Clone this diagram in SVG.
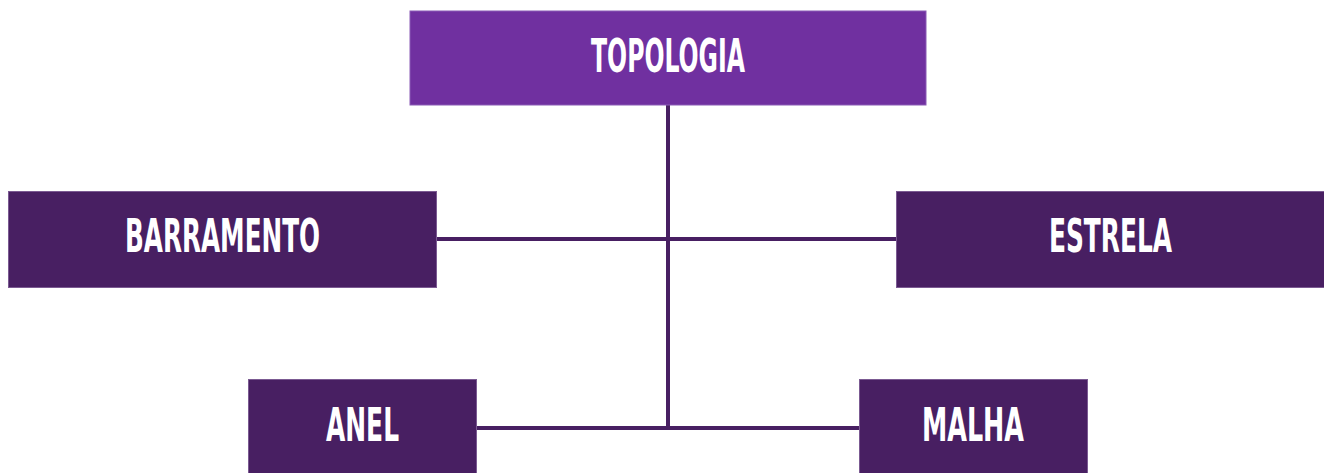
<svg xmlns="http://www.w3.org/2000/svg" width="1324" height="473" viewBox="0 0 1324 473">
<style>
.box{fill:#481F62;stroke:#7B5A92;stroke-width:1}
.top{fill:#7030A0;stroke:#8A5AB5;stroke-width:1}
.lbl{font-family:"DejaVu Sans Condensed","DejaVu Sans","Liberation Sans Narrow",sans-serif;font-weight:bold;font-size:47px;fill:#FFFFFF;text-anchor:middle}
.conn{stroke:#481F62;stroke-width:4;fill:none}
</style>
<rect width="1324" height="473" fill="#FFFFFF"/>
<g id="connectors">
<line class="conn" x1="668" y1="105" x2="668" y2="430"/>
<line class="conn" x1="437" y1="239" x2="896" y2="239"/>
<line class="conn" x1="476" y1="428" x2="860" y2="428"/>
</g>
<g id="topologia">
<rect class="top" x="410" y="11" width="516" height="94"/>
<text class="lbl" x="668" y="72" textLength="154" lengthAdjust="spacingAndGlyphs">TOPOLOGIA</text>
</g>
<g id="barramento">
<rect class="box" x="8.5" y="191.5" width="428" height="96"/>
<text class="lbl" x="222.5" y="252" textLength="195" lengthAdjust="spacingAndGlyphs">BARRAMENTO</text>
</g>
<g id="estrela">
<rect class="box" x="896.5" y="191.5" width="430" height="96"/>
<text class="lbl" x="1110.5" y="252" textLength="123" lengthAdjust="spacingAndGlyphs">ESTRELA</text>
</g>
<g id="anel">
<rect class="box" x="248.5" y="379.5" width="228" height="96"/>
<text class="lbl" x="362.5" y="441" textLength="73" lengthAdjust="spacingAndGlyphs">ANEL</text>
</g>
<g id="malha">
<rect class="box" x="859.5" y="379.5" width="228" height="96"/>
<text class="lbl" x="973" y="441" textLength="102" lengthAdjust="spacingAndGlyphs">MALHA</text>
</g>
</svg>
